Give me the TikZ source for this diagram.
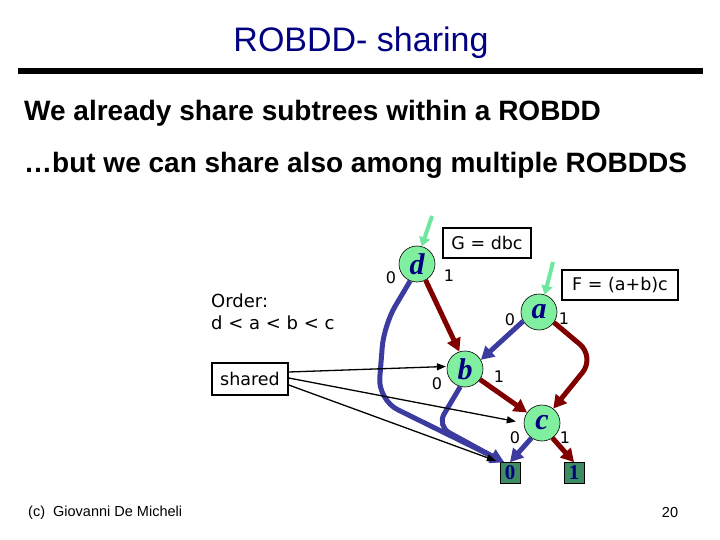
\documentclass[tikz,border=0pt]{standalone}
\usepackage{fontspec}
\setmainfont{Liberation Sans}
\newfontfamily\dvfont{DejaVu Sans}
\newfontfamily\serfont{Liberation Serif}
\usetikzlibrary{arrows.meta,calc}
\definecolor{navy}{RGB}{0,0,128}
\definecolor{nodegreen}{RGB}{128,240,160}
\definecolor{termgreen}{RGB}{60,140,100}
\definecolor{edgeblue}{RGB}{60,60,160}
\definecolor{darkred}{RGB}{128,0,0}
\definecolor{arrowgreen}{RGB}{110,232,160}
\tikzset{
  bnode/.style={circle,draw=black,line width=0.6pt,fill=nodegreen,minimum size=36pt,inner sep=0pt,
    font=\serfont\bfseries\itshape\fontsize{30}{30}\selectfont,text=navy},
  term/.style={rectangle,draw=black,line width=0.6pt,fill=termgreen,minimum width=20pt,minimum height=21pt,inner sep=0pt,
    font=\serfont\bfseries\fontsize{21}{21}\selectfont,text=navy},
  rede/.style={draw=darkred,line width=5pt,-{Triangle[length=13pt,width=14pt]}},
  bluee/.style={draw=edgeblue,line width=5pt,-{Triangle[length=13pt,width=14pt]}},
  greene/.style={draw=arrowgreen,line width=4pt,-{Triangle[length=9pt,width=11pt]}},
  thin/.style={draw=black,line width=1.3pt,-{Triangle[length=9pt,width=7pt]}},
  lab/.style={font=\dvfont\fontsize{16}{16}\selectfont,inner sep=0pt},
  boxt/.style={draw=black,line width=1.5pt,font=\dvfont\fontsize{17.5}{17.5}\selectfont,inner sep=0pt},
  txt/.style={font=\dvfont\fontsize{18}{18}\selectfont,inner sep=0pt,anchor=west}
}
\begin{document}
\begin{tikzpicture}[x=1pt,y=-1pt]
\useasboundingbox (0,0) rectangle (720,540);
% title
\node[font=\fontsize{34}{34}\selectfont,text=navy,inner sep=0pt] (title) at (361,43) {ROBDD- sharing};
\draw[line width=6pt] (18,71) -- (703,71);
\node[font=\bfseries\fontsize{28}{28}\selectfont,anchor=west,inner sep=0pt] (l1) at (24,113) {We already share subtrees within a ROBDD};
\node[font=\bfseries\fontsize{28}{28}\selectfont,anchor=west,inner sep=0pt] (l2) at (24,165) {\ldots but we can share also among multiple ROBDDS};
% order
\node[txt] (ord1) at (211,301) {Order:};
\node[txt] (ord2) at (211,323) {d < a < b < c};
\node[boxt,minimum width=76pt,minimum height=32pt] (shared) at (250,379) {shared};
% nodes
\node[bnode] (d) at (417,264) {d};
\node[bnode] (a) at (539,312) {a};
\node[bnode] (b) at (465,369) {b};
\node[bnode] (c) at (542,423) {c};
\node[term] (t0) at (510,473) {0};
\node[term] (t1) at (574,473) {1};
\node[boxt,minimum width=88pt,minimum height=30pt] (G) at (487,243) {G = dbc};
\node[boxt,minimum width=116pt,minimum height=30pt] (F) at (620,285) {F = (a+b)c};
% green entry arrows
\coordinate (gd) at (432,216);
\coordinate (ga) at (553,262);
\draw[greene] (gd) -- (d.75);
\draw[greene] (ga) -- (a.72);
% edges
\draw[bluee,rounded corners=22pt] (d.-112) -- (384,325) -- (378,400) -- (t0.118);
\draw[rede] (d.-62) -- (b.108);
\draw[bluee] (a.-150) -- (b.30);
\draw[rede,rounded corners=20pt] (a.-35) -- (595,357) -- (c.52);
\draw[bluee,rounded corners=14pt] (b.-105) -- (437,426) -- (t0.122);
\draw[rede] (b.-35) -- (c.145);
\draw[bluee] (c.-125) -- (t0.north);
\draw[rede] (c.-55) -- (t1.north);
% shared arrows
\draw[thin,shorten >=1pt] ($(shared.east)+(0,-7)$) -- (b.172);
\draw[thin,shorten >=8pt] ($(shared.east)+(0,-1)$) -- (c.west);
\draw[thin,shorten >=4pt] ($(shared.east)+(0,6)$) -- (t0.north west);
% edge labels
\node[lab] (d0) at (391,278) {0};
\node[lab] (d1) at (449,276) {1};
\node[lab] (a0) at (510,320) {0};
\node[lab] (a1) at (564,319) {1};
\node[lab] (b0) at (437,384) {0};
\node[lab] (b1) at (499,377) {1};
\node[lab] (c0) at (515,438) {0};
\node[lab] (c1) at (565,438) {1};
% footer
\node[font=\fontsize{14.5}{14.5}\selectfont,anchor=west,inner sep=0pt] (foot) at (28,513) {(c)\ \ Giovanni De Micheli};
\node[font=\fontsize{14.5}{14.5}\selectfont,inner sep=0pt] (pg) at (670,513) {20};
\end{tikzpicture}
\end{document}
